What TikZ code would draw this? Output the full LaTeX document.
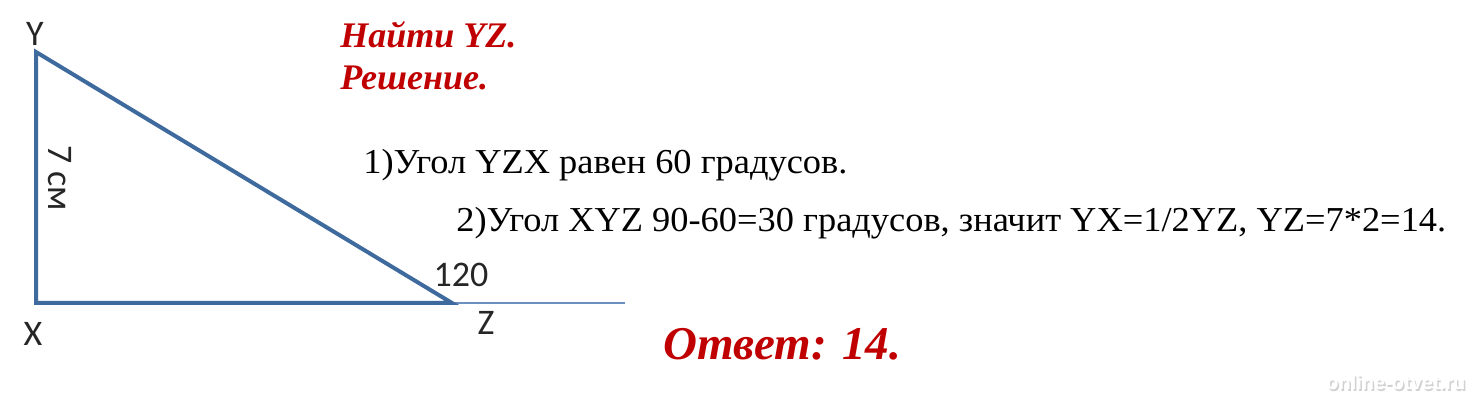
\documentclass[tikz,border=0pt]{standalone}
\usepackage{fontspec}
\setmainfont{Liberation Serif}
\newfontfamily\lblfont{Carlito}
\newfontfamily\condfont[FakeStretch=1.04]{Liberation Serif}
\newfontfamily\wmfont{Liberation Sans}
\definecolor{triblue}{HTML}{3E6A9E}
\definecolor{extblue}{HTML}{6A8FC0}
\definecolor{titlered}{HTML}{C00000}
\tikzset{
  side/.style={draw=triblue, line width=2pt},
  extline/.style={draw=extblue, line width=0.9pt},
  lbl/.style={font=\lblfont\fontsize{18}{20}\selectfont, inner sep=0pt, text=black!85},
  redtitle/.style={font=\bfseries\itshape\fontsize{18}{20}\selectfont, text=titlered, inner sep=0pt, anchor=base west},
  step text/.style={font=\condfont\fontsize{17.5}{20}\selectfont, inner sep=0pt, anchor=base west},
  wmtext/.style={font=\wmfont\bfseries\fontsize{10}{11}\selectfont, inner sep=0pt, anchor=base west},
}
\begin{document}
\begin{tikzpicture}[x=0.5pt, y=-0.5pt]
\useasboundingbox (0,0) rectangle (1472,400);
\coordinate (Y) at (36,52);
\coordinate (X) at (36,303);
\coordinate (Z) at (452,303);
\coordinate (E) at (625,303);
\draw[extline] (Z) -- (E);
\draw[side, line join=miter] (Y) -- (X) -- (Z) -- cycle;
\node[lbl, anchor=base] (lY) at (35,46) {Y};
\node[lbl, anchor=base] (lX) at (33,346) {X};
\node[lbl, anchor=base] (lZ) at (486,335) {Z};
\node[lbl, anchor=base] (l120) at (461,287) {120};
\node[lbl, rotate=-90] (l7) at (60,178) {7 см};
\node[redtitle] (t1) at (340,48) {Найти YZ.};
\node[redtitle] (t2) at (340,90) {Решение.};
\node[step text] (s1) at (363,174) {1)Угол YZX равен 60 градусов.};
\node[step text] (s2) at (456,232) {2)Угол XYZ 90-60=30 градусов, значит YX=1/2YZ, YZ=7*2=14.};
\node[font=\bfseries\itshape\fontsize{23.5}{26}\selectfont, text=titlered, inner sep=0pt, anchor=base west] (ans) at (663,360) {Ответ: 14.};
\node[wmtext, text=black!18] (wm0) at (1327.5,391.5) {online-otvet.ru};
\node[wmtext, text=white] (wm) at (1326,390) {online-otvet.ru};
\end{tikzpicture}
\end{document}
